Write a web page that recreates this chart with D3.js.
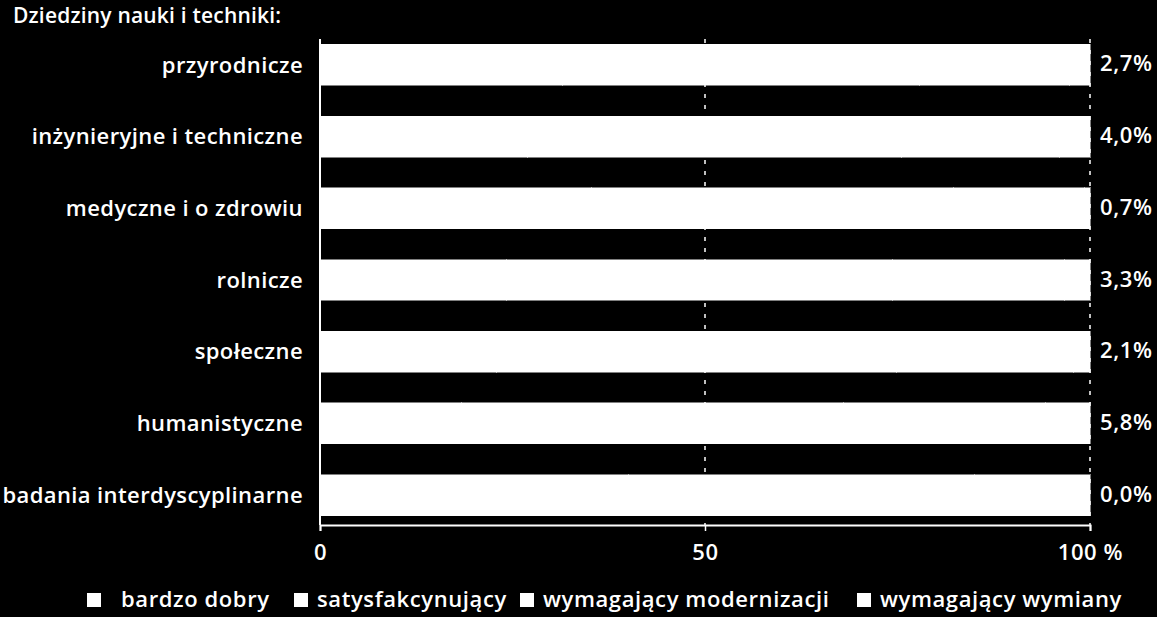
<!DOCTYPE html>
<html>
<head>
<meta charset="utf-8">
<script src="https://cdn.jsdelivr.net/npm/d3@7"></script>
<style>
  html, body { margin: 0; padding: 0; background: #000; }
  svg text { font-family: "Open Sans", Lato, sans-serif; font-weight: 600; fill: #fff; letter-spacing: 0.6px; }
</style>
</head>
<body>
<svg id="chart" width="1157" height="617"></svg>
<script>
// categories (top to bottom)
var categories = ["przyrodnicze", "inżynieryjne i techniczne", "medyczne i o zdrowiu",
                  "rolnicze", "społeczne", "humanistyczne", "badania interdyscyplinarne"];

// series (shares in %, stacked to 100) - all drawn white in the original
var series = ["bardzo dobry", "satysfakcynujący", "wymagający modernizacji", "wymagający wymiany"];
var bardzoDobry   = [31.5, 27.0, 35.3, 24.2, 22.9, 18.4, 40.0];
var satysfakcyjny = [46.3, 48.5, 47.0, 50.1, 52.0, 49.6, 45.0];
var modernizacji  = [19.5, 20.5, 17.0, 22.4, 23.0, 26.2, 15.0];
var wymiany       = [2.7, 4.0, 0.7, 3.3, 2.1, 5.8, 0.0];
var wymianyLabels = ["2,7%", "4,0%", "0,7%", "3,3%", "2,1%", "5,8%", "0,0%"];

var xTicks = [0, 50, 100];
var xTickLabels = ["0", "50", "100 %"];

var margin = {left: 320, right: 67, top: 39, bottom: 92},
    width = 1157 - margin.left - margin.right,
    height = 617 - margin.top - margin.bottom;

var svg = d3.select("#chart");
var g = svg.append("g").attr("transform", "translate(" + margin.left + "," + margin.top + ")");

var x = d3.scaleLinear().domain([0, 100]).range([0, width]);
var y = d3.scaleBand().domain(categories).range([-10, height + 6]).paddingInner(0.43).paddingOuter(0.215);

var table = categories.map(function(c, i) {
  return {cat: c, "bardzo dobry": bardzoDobry[i], "satysfakcynujący": satysfakcyjny[i],
          "wymagający modernizacji": modernizacji[i], "wymagający wymiany": wymiany[i]};
});
var stacked = d3.stack().keys(series)(table);

// dashed grid lines
g.append("g")
  .selectAll("line")
  .data(xTicks.slice(1))
  .enter().append("line")
    .attr("x1", function(d) { return x(d); })
    .attr("x2", function(d) { return x(d); })
    .attr("y1", 0)
    .attr("y2", height)
    .style("stroke", "#fff")
    .style("stroke-width", 1.5)
    .style("stroke-dasharray", "4,7");

// bars (every segment white, as in the original)
g.append("g")
  .attr("shape-rendering", "crispEdges")
  .selectAll("g")
  .data(stacked)
  .enter().append("g")
    .style("fill", "#fff")
    .style("stroke", "#fff")
    .style("stroke-width", 0.5)
  .selectAll("rect")
  .data(function(d) { return d; })
  .enter().append("rect")
    .attr("x", function(d) { return x(d[0]); })
    .attr("width", function(d) { return x(d[1]) - x(d[0]); })
    .attr("y", function(d) { return y(d.data.cat); })
    .attr("height", y.bandwidth());

// x axis
var xAxis = g.append("g")
  .attr("transform", "translate(0," + height + ")")
  .call(d3.axisBottom(x).tickValues(xTicks).tickSize(6).tickFormat(function(d, i) { return xTickLabels[i]; }));
xAxis.attr("font-family", null).attr("font-size", null);
xAxis.select(".domain").style("stroke", "#fff").style("stroke-width", 2);
xAxis.selectAll(".tick line").style("stroke", "#fff").style("stroke-width", 1.5);
xAxis.selectAll(".tick text")
  .attr("dy", "1.2em")
  .style("font-size", "22px")
  .style("fill", "#fff");

// y axis line
g.append("line")
  .attr("x1", 0).attr("x2", 0)
  .attr("y1", 0).attr("y2", height)
  .style("stroke", "#fff")
  .style("stroke-width", 2);

// category labels
g.append("g")
  .selectAll("text")
  .data(categories)
  .enter().append("text")
    .attr("x", -17)
    .attr("y", function(d) { return y(d) + y.bandwidth() / 2; })
    .attr("dy", "0.35em")
    .attr("text-anchor", "end")
    .style("font-size", "22px")
    .style("letter-spacing", "0.4px")
    .text(function(d) { return d; });

// value labels
g.append("g")
  .selectAll("text")
  .data(wymianyLabels)
  .enter().append("text")
    .attr("x", width + 10)
    .attr("y", function(d, i) { return y(categories[i]) + y.bandwidth() / 2; })
    .attr("dy", "0.3em")
    .style("font-size", "22px")
    .text(function(d) { return d; });

// title
svg.append("text")
  .attr("x", 13)
  .attr("y", 16)
  .attr("dy", "0.35em")
  .style("font-size", "21px")
  .style("letter-spacing", "0.2px")
  .text("Dziedziny nauki i techniki:");

// legend
var legendX = [87, 294, 520, 857];
var legend = svg.append("g")
  .selectAll("g")
  .data(series)
  .enter().append("g")
    .attr("transform", function(d, i) { return "translate(" + legendX[i] + ",600)"; });
legend.append("rect")
  .attr("x", 0).attr("y", -7)
  .attr("width", 14).attr("height", 14)
  .style("fill", "#fff");
legend.append("text")
  .attr("x", function(d, i) { return i === 0 ? 34 : 23; })
  .attr("dy", "0.3em")
  .style("font-size", "22px")
  .text(function(d) { return d; });
</script>
</body>
</html>
